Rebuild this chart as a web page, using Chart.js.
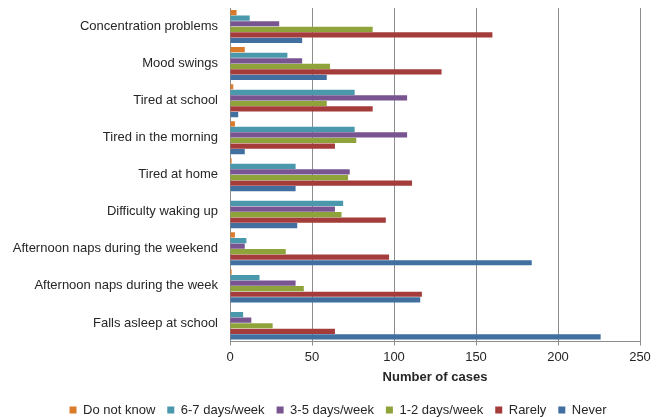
<!DOCTYPE html>
<html>
<head>
<meta charset="utf-8">
<script src="https://cdn.jsdelivr.net/npm/chart.js@4"></script>
<style>
  html, body { margin: 0; padding: 0; background: #ffffff; }
  #wrap { width: 660px; height: 417px; }
</style>
</head>
<body>
<div id="wrap"><canvas id="chart" width="660" height="417"></canvas></div>
<script>
// Sleep-related complaints, number of cases by frequency
const categories = [
  'Concentration problems',
  'Mood swings',
  'Tired at school',
  'Tired in the morning',
  'Tired at home',
  'Difficulty waking up',
  'Afternoon naps during the weekend',
  'Afternoon naps during the week',
  'Falls asleep at school'
];

const seriesNames = ['Do not know', '6-7 days/week', '3-5 days/week', '1-2 days/week', 'Rarely', 'Never'];

const doNotKnow = [4, 9, 2, 3, 1, 0, 3, 1, 0];
const days67    = [12, 35, 76, 76, 40, 69, 10, 18, 8];
const days35    = [30, 44, 108, 108, 73, 64, 9, 40, 13];
const days12    = [87, 61, 59, 77, 72, 68, 34, 45, 26];
const rarely    = [160, 129, 87, 64, 111, 95, 97, 117, 64];
const never     = [44, 59, 5, 9, 40, 41, 184, 116, 226];

const xTicks = [0, 50, 100, 150, 200, 250];

const colors = ['#D97B2B', '#4A98AB', '#785590', '#8FA33B', '#A33C3A', '#416FA0'];
const seriesValues = [doNotKnow, days67, days35, days12, rarely, never];

const gridGrey = '#8c8c8c';
const textColor = '#262626';

// Nudges the legend row down/right inside the bottom band
const legendOffset = {
  id: 'legendOffset',
  afterLayout(chart) {
    const lg = chart.legend;
    if (!lg) return;
    lg.top += 9.5; lg.bottom += 9.5;
    lg.left += 18; lg.right += 18;
  }
};

new Chart(document.getElementById('chart'), {
  type: 'bar',
  data: {
    labels: categories,
    datasets: seriesNames.map((name, i) => ({
      label: name,
      data: seriesValues[i],
      backgroundColor: colors[i],
      borderWidth: 0,
      categoryPercentage: 0.9,
      barPercentage: 0.94
    }))
  },
  options: {
    indexAxis: 'y',
    responsive: false,
    animation: false,
    layout: { padding: { top: 0, right: 20, bottom: 0, left: 0 } },
    scales: {
      x: {
        min: 0,
        max: 250,
        afterBuildTicks(scale) { scale.ticks = xTicks.map(v => ({ value: v })); },
        afterFit(scale) { scale.height = 40.5; },
        grid: { color: gridGrey, lineWidth: 1, tickLength: 4, drawTicks: true },
        border: { display: true, color: gridGrey, width: 1 },
        ticks: {
          color: textColor,
          padding: 4,
          font: { family: '"Liberation Sans", Arial, sans-serif', size: 13 }
        },
        title: {
          display: true,
          text: 'Number of cases',
          color: textColor,
          padding: 0,
          font: { family: '"Liberation Sans", Arial, sans-serif', size: 13, weight: 'bold', lineHeight: '10px' }
        }
      },
      y: {
        afterFit(scale) { scale.width = 230; scale.paddingTop = 8; },
        grid: { display: false, drawTicks: false },
        border: { display: true, color: gridGrey, width: 1 },
        ticks: {
          color: textColor,
          padding: 12,
          font: { family: '"Liberation Sans", Arial, sans-serif', size: 13 }
        }
      }
    },
    plugins: {
      legend: {
        position: 'bottom',
        labels: {
          boxWidth: 7,
          boxHeight: 7,
          padding: 12,
          color: textColor,
          font: { family: '"Liberation Sans", Arial, sans-serif', size: 13 }
        }
      },
      tooltip: { enabled: false }
    }
  },
  plugins: [legendOffset]
});
</script>
</body>
</html>
